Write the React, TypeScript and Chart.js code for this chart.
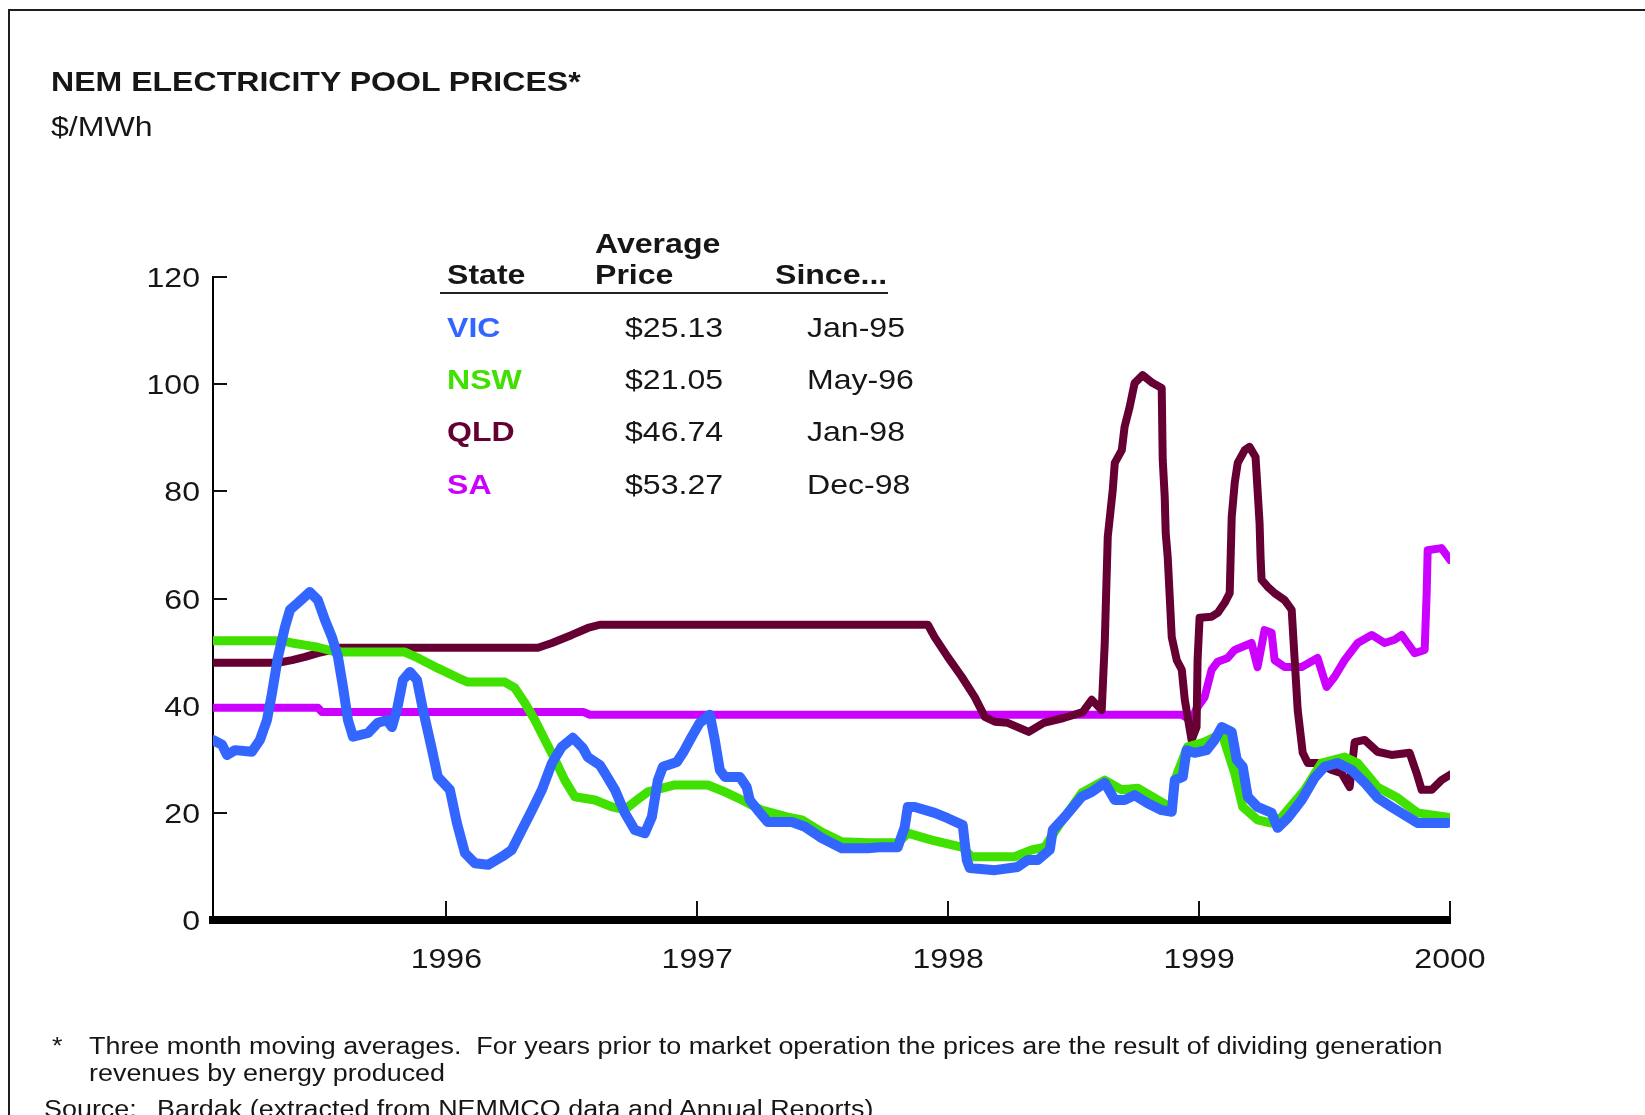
import React, { useEffect, useRef } from "react";
import { Chart, registerables } from "chart.js";

Chart.register(...registerables);

const FONT = '"Liberation Sans", Arial, Helvetica, sans-serif';
const SX = 1.145; // horizontal stretch of the reference lettering

// ---- axis ticks ----
const yearTicks = [1996, 1997, 1998, 1999, 2000];
const yTicks = [0, 20, 40, 60, 80, 100, 120];

// ---- legend table ----
const states = ["VIC", "NSW", "QLD", "SA"];
const avgPrices = ["$25.13", "$21.05", "$46.74", "$53.27"];
const sinceDates = ["Jan-95", "May-96", "Jan-98", "Dec-98"];

// ---- colours ----
const VIC_C = "#3366ff";
const NSW_C = "#40e000";
const QLD_C = "#660033";
const SA_C = "#cc00ff";
const stateColors = [VIC_C, NSW_C, QLD_C, SA_C];

// ---- series (decimal year, $/MWh) ----
const vicX = [1995.070,1995.106,1995.126,1995.158,1995.225,1995.257,1995.285,1995.305,1995.329,1995.357,1995.377,1995.409,1995.456,1995.488,1995.516,1995.544,1995.568,1995.588,1995.608,1995.628,1995.688,1995.727,1995.763,1995.783,1995.803,1995.827,1995.855,1995.883,1995.907,1995.943,1995.966,1996.014,1996.042,1996.074,1996.114,1996.166,1996.221,1996.261,1996.301,1996.341,1996.381,1996.421,1996.460,1996.504,1996.544,1996.564,1996.612,1996.632,1996.672,1996.711,1996.751,1996.791,1996.819,1996.843,1996.863,1996.919,1996.943,1996.978,1997.010,1997.050,1997.070,1997.090,1997.110,1997.170,1997.197,1997.209,1997.241,1997.281,1997.377,1997.429,1997.496,1997.576,1997.680,1997.735,1997.799,1997.827,1997.839,1997.867,1997.946,1997.998,1998.058,1998.074,1998.086,1998.186,1998.277,1998.317,1998.357,1998.405,1998.417,1998.464,1998.532,1998.572,1998.624,1998.664,1998.703,1998.743,1998.795,1998.851,1998.891,1998.903,1998.935,1998.950,1998.982,1999.030,1999.062,1999.090,1999.130,1999.150,1999.174,1999.194,1999.233,1999.289,1999.313,1999.353,1999.409,1999.460,1999.500,1999.552,1999.608,1999.660,1999.711,1999.767,1999.819,1999.871,1999.990];
const vicY = [33.6,32.7,30.8,31.7,31.4,33.6,37.3,42.3,49.1,54.7,57.9,59.2,61.2,59.7,56.0,52.8,49.1,43.5,37.3,34.2,34.9,36.8,37.3,36.0,39.2,44.8,46.3,44.8,39.2,31.7,26.7,24.3,18.1,12.5,10.6,10.3,11.8,13.1,16.8,20.5,24.3,29.3,32.3,34.0,32.1,30.4,28.9,27.4,24.3,20.0,16.8,16.2,19.2,26.1,28.6,29.5,31.2,34.2,36.8,38.3,33.6,28.0,26.7,26.7,24.8,22.4,20.5,18.3,18.3,17.4,15.3,13.4,13.4,13.6,13.6,17.4,21.1,21.1,20.0,19.0,17.7,11.2,9.7,9.3,9.9,11.2,11.2,13.1,16.8,19.2,23.0,23.9,25.6,22.4,22.4,23.3,21.8,20.5,20.2,26.1,26.7,31.7,31.2,31.7,33.6,36.0,35.1,29.9,28.6,23.0,21.1,20.0,17.2,19.0,22.4,26.5,28.6,29.3,28.0,25.6,22.8,21.1,19.6,18.1,18.1];

const nswX = [1995.070,1995.345,1995.385,1995.437,1995.488,1995.544,1995.584,1995.835,1995.887,1995.966,1996.046,1996.086,1996.233,1996.273,1996.313,1996.353,1996.393,1996.433,1996.472,1996.512,1996.592,1996.660,1996.711,1996.771,1996.803,1996.911,1997.042,1997.110,1997.178,1997.257,1997.361,1997.417,1997.496,1997.576,1997.680,1997.799,1997.839,1997.935,1998.054,1998.094,1998.265,1998.333,1998.385,1998.437,1998.532,1998.624,1998.692,1998.755,1998.835,1998.891,1998.903,1998.954,1999.022,1999.094,1999.102,1999.142,1999.174,1999.233,1999.289,1999.329,1999.421,1999.488,1999.580,1999.632,1999.711,1999.791,1999.871,1999.990];
const nswY = [52.1,52.1,51.7,51.3,50.9,50.2,50.0,50.0,48.9,47.0,45.2,44.4,44.4,43.3,40.5,37.3,33.6,29.9,26.1,23.0,22.4,21.1,20.6,22.8,23.9,25.2,25.2,23.9,22.4,20.5,19.2,18.7,16.4,14.6,14.4,14.4,16.2,14.9,13.6,11.8,11.8,13.1,13.6,17.4,23.7,26.1,24.3,24.6,22.4,20.9,26.1,32.3,33.2,34.9,33.2,27.4,21.1,18.7,18.1,19.2,24.3,29.3,30.4,29.3,24.8,22.8,20.0,19.2];

const qldX = [1995.070,1995.329,1995.385,1995.437,1995.488,1995.544,1995.568,1996.365,1996.421,1996.500,1996.564,1996.612,1997.919,1997.946,1997.998,1998.054,1998.106,1998.146,1998.186,1998.237,1998.321,1998.381,1998.460,1998.536,1998.572,1998.612,1998.624,1998.636,1998.656,1998.664,1998.692,1998.703,1998.723,1998.743,1998.775,1998.815,1998.851,1998.855,1998.863,1998.867,1998.875,1998.891,1998.911,1998.931,1998.943,1998.970,1998.990,1998.994,1999.002,1999.050,1999.074,1999.102,1999.122,1999.130,1999.142,1999.154,1999.182,1999.201,1999.225,1999.233,1999.241,1999.245,1999.249,1999.273,1999.301,1999.341,1999.369,1999.381,1999.393,1999.413,1999.433,1999.472,1999.528,1999.568,1999.600,1999.620,1999.660,1999.711,1999.767,1999.839,1999.867,1999.887,1999.927,1999.966,2000.000];
const qldY = [48.0,48.0,48.5,49.1,49.8,50.4,50.8,50.8,51.7,53.2,54.5,55.1,55.1,52.8,49.1,45.4,41.6,37.9,37.0,36.8,35.1,36.8,37.7,38.8,41.1,39.2,51.7,71.5,80.3,85.3,87.7,92.0,95.7,100.2,101.7,100.2,99.3,86.0,79.0,72.2,67.7,52.8,48.5,46.7,41.1,33.6,36.0,48.5,56.4,56.6,57.3,59.2,61.0,75.2,81.6,85.3,87.7,88.3,86.4,80.3,74.1,67.7,63.5,62.2,61.0,59.7,57.9,48.5,39.2,31.2,29.3,29.3,28.0,27.4,24.8,33.2,33.6,31.4,30.8,31.2,27.4,24.3,24.3,26.1,27.1];

const saX = [1995.070,1995.488,1995.504,1996.548,1996.572,1998.931,1998.970,1998.990,1999.022,1999.050,1999.074,1999.114,1999.142,1999.209,1999.233,1999.261,1999.289,1999.301,1999.341,1999.409,1999.472,1999.508,1999.540,1999.580,1999.632,1999.688,1999.739,1999.779,1999.807,1999.859,1999.899,1999.907,1999.911,1999.966,2000.000];
const saY = [39.6,39.6,38.8,38.8,38.3,38.3,37.2,39.5,41.6,46.7,48.2,48.9,50.4,51.7,47.2,54.1,53.6,48.5,47.2,47.2,48.9,43.5,45.4,48.5,51.7,53.2,51.7,52.3,53.2,49.8,50.4,61.0,69.0,69.4,67.2];

const pts = (xs: number[], ys: number[]) => xs.map((x, i) => ({ x, y: ys[i] }));

const axisDecor = {
  id: "axisDecor",
  beforeDatasetsDraw(chart: any) {
    const { ctx, chartArea, scales } = chart;
    const xs = scales.x;
    const ys = scales.y;
    ctx.save();
    ctx.strokeStyle = "#111";
    ctx.lineWidth = 2;
    ctx.beginPath();
    for (const v of yTicks) {
      if (v === 0) continue;
      const py = Math.round(ys.getPixelForValue(v));
      ctx.moveTo(chartArea.left, py);
      ctx.lineTo(chartArea.left + 14, py);
    }
    for (const yr of yearTicks) {
      const px = Math.round(xs.getPixelForValue(yr));
      ctx.moveTo(px, chartArea.bottom - 3);
      ctx.lineTo(px, chartArea.bottom - 19);
    }
    ctx.stroke();
    ctx.restore();
  },
  afterDraw(chart: any) {
    const { ctx, chartArea, scales } = chart;
    const xs = scales.x;
    const ys = scales.y;
    ctx.save();
    ctx.fillStyle = "#161616";
    ctx.font = `28px ${FONT}`;
    ctx.textBaseline = "alphabetic";
    ctx.textAlign = "right";
    for (const v of yTicks) {
      const py = ys.getPixelForValue(v);
      ctx.save();
      ctx.translate(chartArea.left - 13, py + 10);
      ctx.scale(SX, 1);
      ctx.fillText(String(v), 0, 0);
      ctx.restore();
    }
    ctx.textAlign = "center";
    for (const yr of yearTicks) {
      const px = xs.getPixelForValue(yr);
      ctx.save();
      ctx.translate(px, chartArea.bottom + 48);
      ctx.scale(SX, 1);
      ctx.fillText(String(yr), 0, 0);
      ctx.restore();
    }
    ctx.restore();
  },
};

type TProps = { x: number; y: number; size?: number; bold?: boolean; color?: string; children: any };
const T = ({ x, y, size = 28, bold = false, color = "#161616", children }: TProps) => (
  <div
    style={{
      position: "absolute",
      left: x,
      top: y,
      fontFamily: FONT,
      fontSize: size,
      lineHeight: `${size}px`,
      fontWeight: bold ? 700 : 400,
      color,
      whiteSpace: "nowrap",
      transform: `scaleX(${SX})`,
      transformOrigin: "left top",
    }}
  >
    {children}
  </div>
);

export default function App() {
  const canvasRef = useRef<HTMLCanvasElement | null>(null);

  useEffect(() => {
    const canvas = canvasRef.current;
    if (!canvas) return;
    const line = (label: string, xs: number[], ys: number[], color: string, w: number) => ({
      label,
      data: pts(xs, ys),
      borderColor: color,
      backgroundColor: color,
      borderWidth: w,
      pointRadius: 0,
      pointHoverRadius: 0,
      tension: 0,
      fill: false,
      borderJoinStyle: "round" as const,
      borderCapStyle: "round" as const,
    });
    const chart = new Chart(canvas, {
      type: "line",
      data: {
        datasets: [
          line("VIC", vicX, vicY, VIC_C, 10),
          line("NSW", nswX, nswY, NSW_C, 9),
          line("QLD", qldX, qldY, QLD_C, 8),
          line("SA", saX, saY, SA_C, 8),
        ],
      },
      options: {
        responsive: false,
        animation: false,
        devicePixelRatio: 1,
        events: [],
        layout: { padding: { left: 0, top: 277, right: 195, bottom: 135 } },
        plugins: {
          legend: { display: false },
          tooltip: { enabled: false },
          title: { display: false },
        },
        scales: {
          x: {
            type: "linear",
            min: 1995.07,
            max: 2000,
            grid: { display: false, drawTicks: false },
            border: { display: true, color: "#000", width: 8 },
            ticks: { display: false },
            afterFit: (s: any) => {
              s.height = 60;
            },
          },
          y: {
            type: "linear",
            min: 0,
            max: 120,
            grid: { display: false, drawTicks: false },
            border: { display: true, color: "#000", width: 2 },
            ticks: { display: false, stepSize: 20 },
            afterFit: (s: any) => {
              s.width = 213;
            },
          },
        },
      },
      plugins: [axisDecor],
    });
    return () => chart.destroy();
  }, []);

  const rowCenters = [327.2, 379.7, 431.2, 484.2];

  return (
    <div
      style={{
        position: "absolute",
        left: 0,
        top: 0,
        width: 1645,
        height: 1115,
        overflow: "hidden",
        background: "#fff",
      }}
    >
      <div
        style={{
          position: "absolute",
          left: 8,
          top: 9,
          width: 1720,
          height: 1220,
          border: "2px solid #1e1e1e",
        }}
      />
      <canvas
        ref={canvasRef}
        width={1645}
        height={1115}
        style={{ position: "absolute", left: 0, top: 0, width: 1645, height: 1115 }}
      />
      <T x={51} y={68} bold>NEM ELECTRICITY POOL PRICES*</T>
      <T x={51} y={113}>$/MWh</T>

      <T x={595} y={229.6} bold>Average</T>
      <T x={446.5} y={261.3} bold>State</T>
      <T x={595} y={261.3} bold>Price</T>
      <T x={775} y={261.3} bold>Since...</T>
      <div
        style={{
          position: "absolute",
          left: 440,
          top: 292,
          width: 448,
          height: 2,
          background: "#222",
        }}
      />
      {states.map((s, i) => (
        <React.Fragment key={s}>
          <T x={446.5} y={rowCenters[i] - 13.7} bold color={stateColors[i]}>{s}</T>
          <T x={625} y={rowCenters[i] - 13.7}>{avgPrices[i]}</T>
          <T x={806.5} y={rowCenters[i] - 13.7}>{sinceDates[i]}</T>
        </React.Fragment>
      ))}

      <T x={52} y={1035} size={23.5}>*</T>
      <div
        style={{
          position: "absolute",
          left: 89,
          top: 1033,
          fontFamily: FONT,
          fontSize: 23.5,
          lineHeight: "26.7px",
          color: "#161616",
          whiteSpace: "nowrap",
          transform: `scaleX(${SX})`,
          transformOrigin: "left top",
        }}
      >
        Three month moving averages.&nbsp; For years prior to market operation the prices are the result of dividing generation
        <br />
        revenues by energy produced
      </div>
      <T x={44} y={1098} size={23.5}>Source:</T>
      <T x={157} y={1098} size={23.5}>Bardak (extracted from NEMMCO data and Annual Reports)</T>
    </div>
  );
}
